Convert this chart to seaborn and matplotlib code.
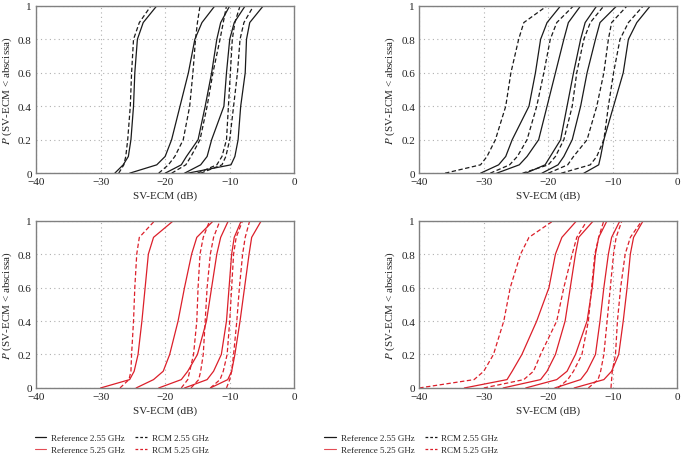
import numpy as np
import pandas as pd
import seaborn as sns
import matplotlib
matplotlib.use("Agg")
import matplotlib.pyplot as plt
from matplotlib.lines import Line2D

p_levels = [0, 0.05, 0.1, 0.2, 0.4, 0.6, 0.8, 0.9, 1.0]

# SV-ECM (dB) at each probability level, one list per curve
tl_ref = [[-27.8, -26.5, -25.7, -25.3, -24.9, -24.7, -24.3, -23.4, -21.3],
          [-25.5, -21.3, -20.0, -19.0, -17.7, -16.4, -15.4, -14.3, -12.3],
          [-20.0, -17.5, -16.7, -14.9, -13.8, -12.8, -12.0, -11.4, -10.0],
          [-17.0, -14.5, -13.5, -12.8, -10.9, -10.5, -10.0, -9.3, -7.6],
          [-16.5, -9.8, -9.2, -8.7, -8.3, -7.6, -7.4, -6.9, -4.8]]
tl_rcm = [[-27.2, -26.4, -26.1, -25.8, -25.4, -25.2, -24.9, -24.0, -22.2],
          [-21.0, -19.5, -18.5, -17.2, -16.2, -15.7, -15.3, -15.0, -14.6],
          [-19.0, -16.8, -16.0, -14.6, -13.5, -12.6, -11.5, -11.0, -10.5],
          [-15.0, -12.0, -11.2, -10.5, -10.2, -9.9, -9.6, -9.2, -8.4],
          [-14.5, -11.2, -10.6, -10.0, -9.4, -8.8, -8.4, -7.8, -6.3]]

tr_ref = [[-30.5, -27.7, -26.6, -25.6, -23.0, -22.0, -21.2, -20.2, -18.1],
          [-28.0, -24.5, -23.3, -21.5, -20.2, -18.9, -17.6, -16.9, -15.0],
          [-23.5, -20.5, -19.7, -18.1, -17.1, -16.1, -15.0, -14.3, -12.5],
          [-21.0, -18.5, -17.6, -16.3, -15.0, -14.0, -12.7, -12.0, -9.4],
          [-14.5, -12.2, -11.9, -11.4, -9.9, -8.4, -7.6, -6.3, -4.2]]
tr_rcm = [[-36.0, -30.5, -29.5, -28.2, -26.6, -25.8, -24.6, -23.8, -20.2],
          [-29.0, -26.0, -24.8, -23.3, -21.8, -20.7, -19.7, -18.7, -16.1],
          [-24.0, -20.0, -18.9, -17.6, -16.3, -15.6, -14.5, -13.5, -11.4],
          [-20.0, -17.0, -16.1, -14.0, -12.5, -11.4, -10.7, -10.2, -7.8],
          [-18.0, -13.5, -12.5, -11.4, -10.7, -9.9, -8.9, -7.6, -5.3]]

bl_ref = [[-30.0, -25.5, -24.8, -24.2, -23.6, -23.1, -22.6, -21.8, -18.7],
          [-24.5, -21.8, -20.3, -19.3, -18.0, -17.0, -15.9, -15.1, -12.5],
          [-21.0, -17.5, -16.5, -15.0, -13.6, -12.8, -12.0, -11.4, -10.2],
          [-17.0, -13.5, -12.5, -11.3, -10.5, -10.1, -9.7, -9.3, -8.2],
          [-13.0, -10.3, -9.7, -9.2, -8.4, -7.7, -7.0, -6.6, -5.1]]
bl_rcm = [[-27.0, -25.6, -25.3, -25.2, -24.9, -24.7, -24.4, -24.0, -21.6],
          [-17.5, -16.5, -16.2, -15.6, -15.1, -14.9, -14.6, -14.1, -13.1],
          [-16.0, -14.8, -14.5, -14.1, -13.8, -13.5, -13.0, -12.5, -11.5],
          [-13.0, -11.5, -11.0, -10.4, -10.0, -9.7, -9.4, -9.0, -8.0],
          [-10.5, -10.0, -9.7, -9.4, -8.9, -8.5, -8.0, -7.6, -6.9]]

br_ref = [[-33.0, -26.4, -25.6, -24.1, -21.8, -19.9, -18.9, -17.9, -15.6],
          [-27.0, -21.2, -20.2, -18.9, -17.4, -16.6, -15.8, -15.3, -13.0],
          [-23.5, -18.7, -17.1, -15.8, -14.0, -13.2, -12.7, -12.2, -10.9],
          [-19.0, -15.0, -14.0, -12.7, -12.0, -11.4, -10.7, -10.2, -8.9],
          [-16.0, -11.4, -10.2, -9.1, -8.4, -7.8, -7.3, -6.8, -5.3]]
br_rcm = [[-40.0, -31.5, -30.0, -28.5, -26.9, -25.9, -24.3, -23.0, -19.2],
          [-30.0, -23.8, -22.3, -21.2, -18.7, -17.6, -16.3, -15.6, -14.0],
          [-18.5, -17.0, -16.1, -14.8, -13.8, -13.3, -12.8, -12.2, -11.4],
          [-13.8, -12.3, -11.9, -11.4, -10.9, -10.4, -9.9, -9.5, -8.6],
          [-10.3, -10.2, -10.1, -9.6, -9.3, -8.8, -8.1, -7.3, -5.5]]

x_ticks = [-40, -30, -20, -10, 0]
y_ticks = [0, 0.2, 0.4, 0.6, 0.8, 1]
y_tick_labels = ["0", "0.2", "0.4", "0.6", "0.8", "1"]
legend_labels = ["Reference 2.55 GHz", "Reference 5.25 GHz", "RCM 2.55 GHz", "RCM 5.25 GHz"]

BLACK = "#1a1a1a"
RED = "#dc1f2a"

sns.set_style("white")
plt.rcParams["font.family"] = ["Liberation Serif", "DejaVu Serif"]
plt.rcParams["mathtext.fontset"] = "stix"

fig = plt.figure(figsize=(6.85, 4.56), dpi=100)
w, h = 0.377, 0.367
positions = [(0.0526, 0.618), (0.612, 0.618), (0.0526, 0.147), (0.612, 0.147)]
panels = [(tl_ref, tl_rcm, BLACK), (tr_ref, tr_rcm, BLACK),
          (bl_ref, bl_rcm, RED), (br_ref, br_rcm, RED)]

for (x0, y0), (refs, rcms, col) in zip(positions, panels):
    ax = fig.add_axes([x0, y0, w, h])
    for curve in refs:
        df = pd.DataFrame({"db": curve, "p": p_levels})
        sns.lineplot(data=df, x="db", y="p", ax=ax, color=col, lw=0.9,
                     estimator=None, sort=False)
    for curve in rcms:
        df = pd.DataFrame({"db": curve, "p": p_levels})
        sns.lineplot(data=df, x="db", y="p", ax=ax, color=col, lw=0.9,
                     linestyle=(0, (3.5, 2)), estimator=None, sort=False)
    ax.set_xlim(-40, 0)
    ax.set_ylim(0, 1)
    ax.set_xticks(x_ticks)
    ax.set_yticks(y_ticks)
    ax.set_yticklabels(y_tick_labels)
    ax.grid(True, color="#b0b0b0", linestyle=(0, (1, 3)), lw=0.8)
    ax.tick_params(labelsize=8, length=0, pad=3, colors="#222222")
    for s in ax.spines.values():
        s.set_color("#808080")
        s.set_linewidth(1.0)
    ax.set_xlabel("SV-ECM (dB)", fontsize=8, labelpad=3)
    ax.set_ylabel("$P$ (SV-ECM < abscissa)", fontsize=8, labelpad=3)

handles = [Line2D([], [], color=BLACK, lw=0.9),
           Line2D([], [], color=RED, lw=0.8, alpha=0.8),
           Line2D([], [], color=BLACK, lw=0.9, linestyle=(0, (2.2, 1.6))),
           Line2D([], [], color=RED, lw=0.9, linestyle=(0, (2.2, 1.6)))]
for lx in [0.044, 0.467]:
    fig.legend(handles, legend_labels, ncol=2, loc="upper left",
               bbox_to_anchor=(lx, 0.056), frameon=False, fontsize=6.5,
               handlelength=1.3, handletextpad=0.5, columnspacing=1.2,
               labelspacing=0.35, borderpad=0)

fig.savefig("out.png", dpi=100)
